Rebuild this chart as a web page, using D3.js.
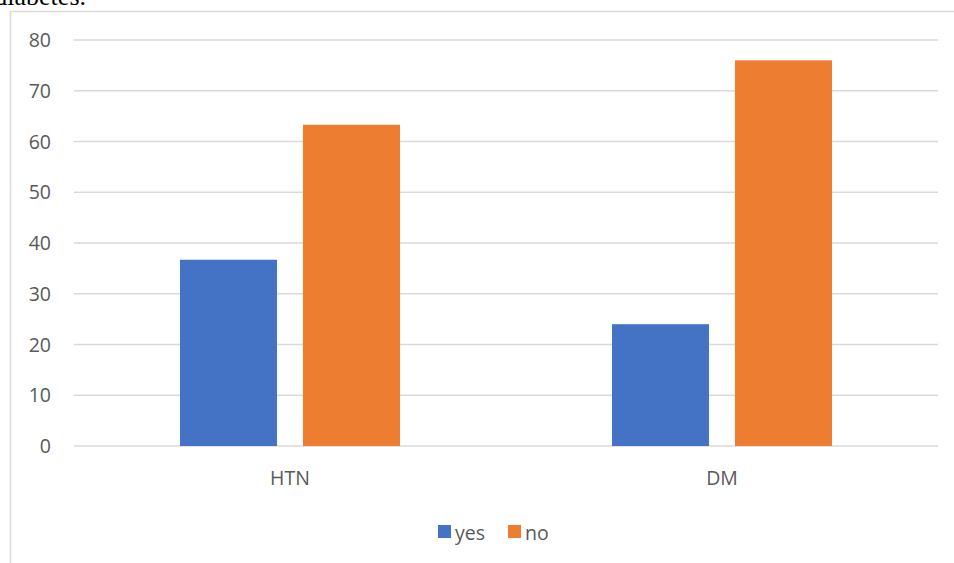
<!DOCTYPE html>
<html>
<head>
<meta charset="utf-8">
<script src="https://cdn.jsdelivr.net/npm/d3@7/dist/d3.min.js"></script>
<style>
  body { margin: 0; background: #fff; overflow: hidden; }
  svg text { font-family: "Open Sans", sans-serif; }
</style>
</head>
<body>
<div id="chart"></div>
<script>
// data
const categories = ["HTN", "DM"];
const seriesNames = ["yes", "no"];
const yesValues = [36.7, 24];
const noValues = [63.3, 76];
const yTicks = [0, 10, 20, 30, 40, 50, 60, 70, 80];
const colors = ["#4472c4", "#ed7d31"];

const W = 954, H = 563;
const padLeft = 74, padRight = 938, padTop = 40, padBottom = 446;
const fontSize = "19.5px";

const svg = d3.select("#chart").append("svg")
    .attr("width", W).attr("height", H);

// caption text cut at top of page (as in the reference)
svg.append("text")
    .attr("x", 86).attr("y", 5)
    .attr("text-anchor", "end")
    .style("font-family", "'Liberation Serif', 'Times New Roman', serif")
    .style("font-size", "26px")
    .attr("fill", "#000")
    .text("diabetes.");

// chart frame (left + top edges visible)
svg.append("path")
    .attr("d", `M10.5,${H} L10.5,11.5 L${W},11.5`)
    .attr("fill", "none")
    .attr("stroke", "#d9d9d9")
    .attr("stroke-width", 1.5);

const x0 = d3.scaleBand().domain(categories).range([padLeft, padRight]);
const x1 = d3.scaleBand().domain(seriesNames)
    .range([0, x0.bandwidth()])
    .paddingInner(0.211).paddingOuter(0.862);
const y = d3.scaleLinear().domain([0, 80]).range([padBottom, padTop]);

// gridlines
svg.append("g").selectAll("line")
    .data(yTicks).enter().append("line")
    .attr("x1", padLeft).attr("x2", padRight)
    .attr("y1", d => y(d)).attr("y2", d => y(d))
    .attr("stroke", "#d9d9d9").attr("stroke-width", 1.3);

// y axis labels
const yAxis = d3.axisLeft(y).tickValues(yTicks).tickSize(0).tickPadding(0);
const gy = svg.append("g").attr("transform", `translate(51,0)`).call(yAxis);
gy.select(".domain").remove();
gy.selectAll("text")
    .attr("fill", "#595959")
    .attr("dy", "0.34em")
    .style("font-size", fontSize);

// bars
const rows = categories.map((c, i) => ({ cat: c, vals: [yesValues[i], noValues[i]] }));
const groups = svg.append("g").selectAll("g")
    .data(rows).enter().append("g")
    .attr("transform", d => `translate(${x0(d.cat)},0)`);
groups.selectAll("rect")
    .data(d => d.vals.map((v, j) => ({ name: seriesNames[j], v: v, j: j })))
    .enter().append("rect")
    .attr("x", d => x1(d.name))
    .attr("width", x1.bandwidth())
    .attr("y", d => y(d.v))
    .attr("height", d => y(0) - y(d.v))
    .attr("fill", d => colors[d.j]);

// x axis labels
const xAxis = d3.axisBottom(x0).tickSize(0).tickPadding(0);
const gx = svg.append("g").attr("transform", `translate(0,484.5)`).call(xAxis);
gx.select(".domain").remove();
gx.selectAll("text")
    .attr("dy", 0)
    .attr("fill", "#595959")
    .style("font-size", fontSize);

// legend
const legendX = [438, 508];
const legend = svg.append("g").selectAll("g")
    .data(seriesNames).enter().append("g")
    .attr("transform", (d, i) => `translate(${legendX[i]},525)`);
legend.append("rect")
    .attr("width", 13).attr("height", 13)
    .attr("fill", (d, i) => colors[i]);
legend.append("text")
    .attr("x", 17).attr("y", 15)
    .attr("fill", "#595959")
    .style("font-size", fontSize)
    .text(d => d);
</script>
</body>
</html>
